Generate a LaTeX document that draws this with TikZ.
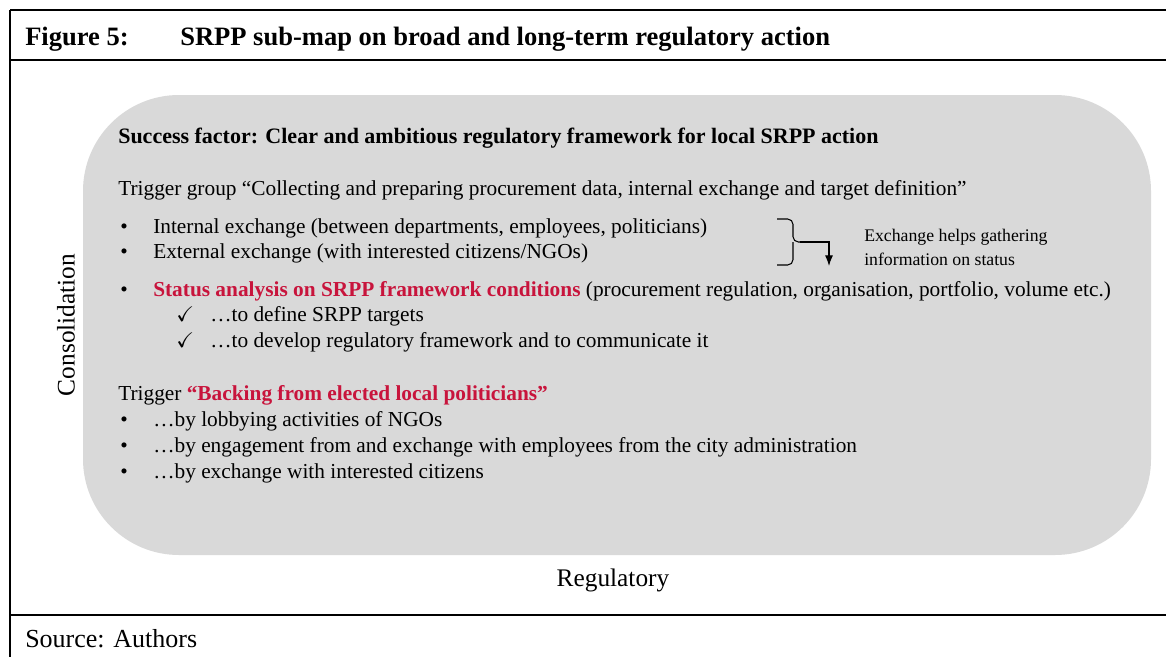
\documentclass[tikz,border=0pt]{standalone}
\usepackage{fontspec}
\setmainfont{Liberation Serif}
\usepackage{amssymb}
\usetikzlibrary{arrows.meta, positioning}
\definecolor{srppred}{RGB}{200,20,60}
\definecolor{mapgray}{RGB}{217,217,217}

\begin{document}
\begin{tikzpicture}[x=0.75pt, y=-0.75pt, >={Latex[length=8pt,width=6pt]}]
 % We define the styles for the frame, the texts and the arrow
 \tikzset{
rule/.style = {draw, line width=1.6pt},
txt/.style = {anchor=base west, inner sep=0pt, font=\fontsize{16}{19}\selectfont},
head/.style = {anchor=base west, inner sep=0pt, font=\fontsize{19.9}{23}\selectfont\bfseries},
small/.style = {anchor=base west, inner sep=0pt, font=\fontsize{13.3}{15}\selectfont},
line/.style = {draw, ->, line width=0.8pt},
}
 \useasboundingbox (0,0) rectangle (1166,657);

 % Frame with header and source rows
 \draw [rule] (10,10) -- (1166,10);
 \draw [rule] (10,60) -- (1166,60);
 \draw [rule] (10,615) -- (1166,615);
 \draw [rule] (10,10) -- (10,657);
 \node [head] (fignum) at (25,45) {Figure 5:};
 \node [head] (figtitle) at (180,45) {SRPP sub-map on broad and long-term regulatory action};
 \node [anchor=base west, inner sep=0pt, font=\fontsize{19.5}{22}\selectfont] (source) at (25,647) {Source: Authors};

 % Grey map area
 \fill [mapgray, rounded corners=72pt] (83,95) rectangle (1151,555);
 \node [anchor=center, inner sep=0pt, rotate=90, font=\fontsize{19}{22}\selectfont] (axisy) at (66,325) {Consolidation};
 \node [anchor=base, inner sep=0pt, font=\fontsize{19}{22}\selectfont] (axisx) at (613,586) {Regulatory};

 % Success factor and first trigger group
 \node [txt, font=\fontsize{16.5}{19}\selectfont\bfseries] (factor) at (118,143) {Success factor: Clear and ambitious regulatory framework for local SRPP action};
 \node [txt] (group) at (118,195) {Trigger group “Collecting and preparing procurement data, internal exchange and target definition”};
 \node [txt] (b1) at (120,233) {•};
 \node [txt] (internal) at (153,233) {Internal exchange (between departments, employees, politicians)};
 \node [txt] (b2) at (120,258) {•};
 \node [txt] (external) at (153,258) {External exchange (with interested citizens/NGOs)};
 \node [txt] (b3) at (120,296) {•};
 \node [txt] (status) at (153,296) {\textcolor{srppred}{\bfseries Status analysis on SRPP framework conditions} (procurement regulation, organisation, portfolio, volume etc.)};
 \node [txt] (c1) at (176,321) {$\checkmark$};
 \node [txt] (targets) at (210,321) {…to define SRPP targets};
 \node [txt] (c2) at (176,347) {$\checkmark$};
 \node [txt] (develop) at (210,347) {…to develop regulatory framework and to communicate it};

 % Brace and arrow to the note
 \draw [line width=0.8pt, rounded corners=4pt] (777,219) -- (793,219) -- (793,242) -- (800,242);
 \draw [line width=0.8pt, rounded corners=4pt] (777,265) -- (793,265) -- (793,242);
 \coordinate (cusp) at (800,242);
 \coordinate (down) at (829,266);
 \draw [line] (cusp) -| (down);
 \node [small] (note1) at (864,241) {Exchange helps gathering};
 \node [small] (note2) at (864,265) {information on status};

 % Second trigger
 \node [txt] (trigger) at (118,400) {Trigger \textcolor{srppred}{\bfseries “Backing from elected local politicians”}};
 \node [txt] (b4) at (120,426) {•};
 \node [txt] (lobby) at (153,426) {…by lobbying activities of NGOs};
 \node [txt] (b5) at (120,452) {•};
 \node [txt] (engage) at (153,452) {…by engagement from and exchange with employees from the city administration};
 \node [txt] (b6) at (120,478) {•};
 \node [txt] (citizens) at (153,478) {…by exchange with interested citizens};

\end{tikzpicture}
\end{document}
